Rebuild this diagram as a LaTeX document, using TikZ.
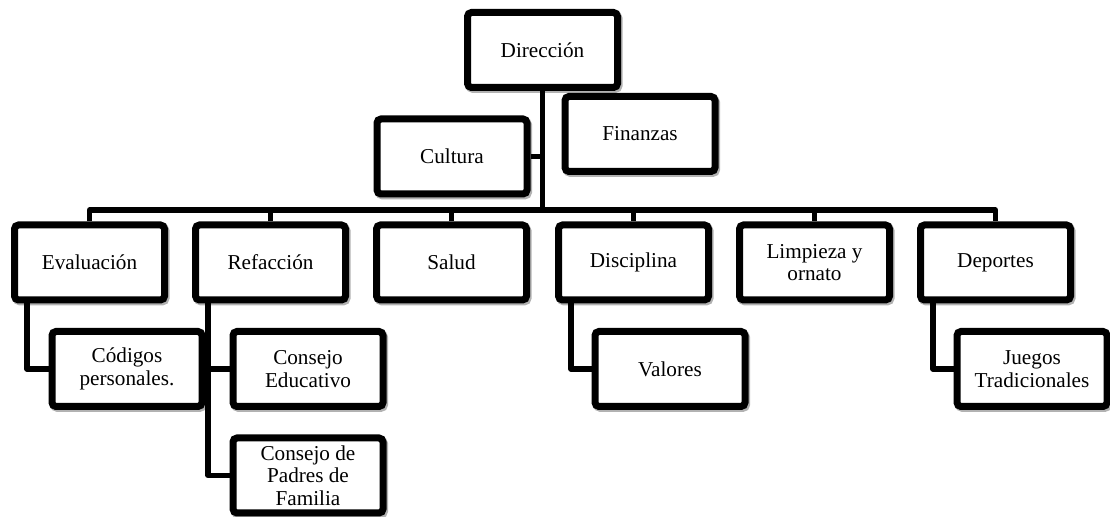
\documentclass[tikz,border=0pt]{standalone}
\usepackage{fontspec}
\setmainfont{Liberation Serif}
\usetikzlibrary{shadows}

\begin{document}
\begin{tikzpicture}[x=0.5pt,y=-0.5pt,
  caja/.style={draw, line width=3.5pt, rounded corners=2pt, fill=white,
    minimum width=75pt, minimum height=37.5pt, inner sep=1pt, align=center,
    font=\fontsize{10.6}{11.2}\selectfont,
    drop shadow={shadow xshift=0.8pt, shadow yshift=-1pt, opacity=0.3,
      draw=black, line width=3.5pt, fill=black}},
  enlace/.style={line width=2.6pt, line join=round}]
\useasboundingbox (0,0) rectangle (1110,517);
\node[caja] (dir) at (542.5,50) {Dirección};
\node[caja] (cul) at (452,156.5) {Cultura};
\node[caja] (fin) at (640,134) {Finanzas};
\node[caja] (eva) at (89.5,262.5) {Evaluación};
\node[caja] (ref) at (270.5,262.5) {Refacción};
\node[caja] (sal) at (451.5,262.5) {Salud};
\node[caja] (dis) at (633.5,262.5) {Disciplina};
\node[caja] (lim) at (814.5,262.5) {Limpieza y\\ornato};
\node[caja] (dep) at (995.5,262.5) {Deportes};
\node[caja] (cod) at (127,369) {Códigos\\personales.};
\node[caja] (ced) at (308,369) {Consejo\\Educativo};
\node[caja] (cpf) at (308,475.5) {Consejo de\\Padres de\\Familia};
\node[caja] (val) at (670,369) {Valores};
\node[caja] (jue) at (1032,369) {Juegos\\Tradicionales};
\coordinate (bar) at (542.5,210);
\draw[enlace] (dir.south) -- (dir.south |- bar);
\draw[enlace] (cul.east) -- (cul.east -| dir.south);
\draw[enlace] (eva.north) |- (bar) -| (dep.north);
\foreach \n in {ref,sal,dis,lim}
  \draw[enlace] (\n.north) -- (\n.north |- bar);
\draw[enlace] ([xshift=8pt]eva.south west) |- (cod.west);
\draw[enlace] ([xshift=8pt]ref.south west) |- (ced.west);
\draw[enlace] ([xshift=8pt]ref.south west) |- (cpf.west);
\draw[enlace] ([xshift=8pt]dis.south west) |- (val.west);
\draw[enlace] ([xshift=8pt]dep.south west) |- (jue.west);
\end{tikzpicture}
\end{document}
